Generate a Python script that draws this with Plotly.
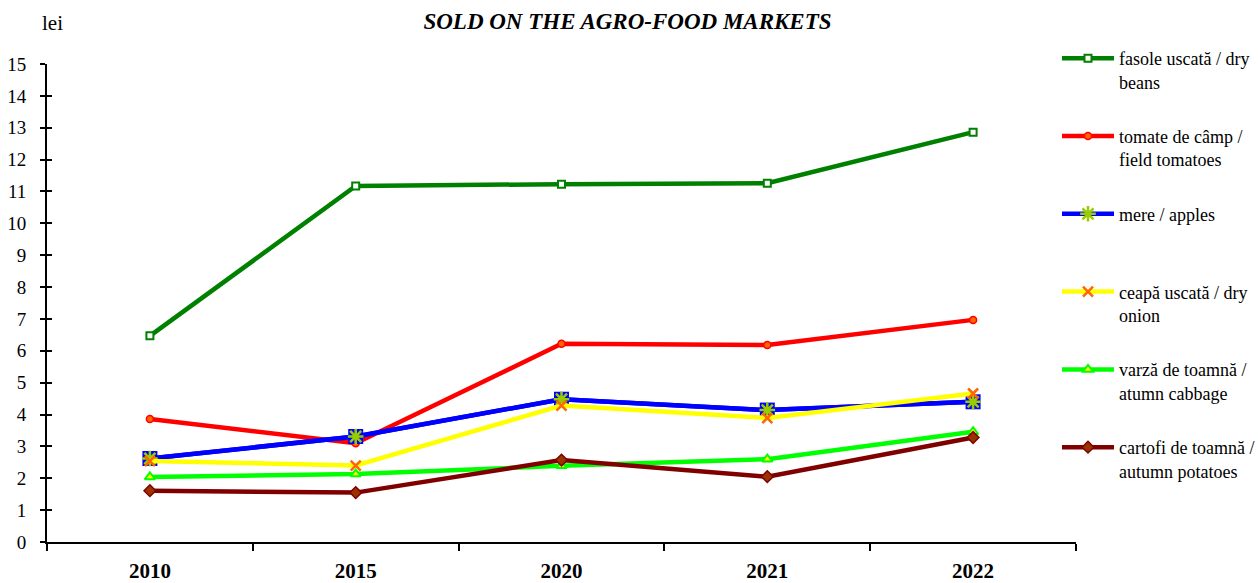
import plotly.graph_objects as go

years = ["2010", "2015", "2020", "2021", "2022"]

names = [
    "fasole uscată / dry<br>beans",
    "tomate de câmp /<br>field tomatoes",
    "mere / apples<br> ",
    "ceapă uscată / dry<br>onion",
    "varză de toamnă /<br>atumn cabbage",
    "cartofi de toamnă /<br>autumn potatoes",
]

beans = [6.47, 11.17, 11.23, 11.26, 12.86]
tomatoes = [3.86, 3.10, 6.22, 6.18, 6.97]
apples = [2.62, 3.31, 4.48, 4.14, 4.40]
onion = [2.54, 2.40, 4.28, 3.89, 4.66]
cabbage = [2.04, 2.13, 2.39, 2.60, 3.46]
potatoes = [1.61, 1.55, 2.57, 2.05, 3.28]

FONT = "Liberation Serif"

W, H = 1258, 583
L, R, T, B = 47, 182, 64, 41
PW, PH = W - L - R, H - T - B

fig = go.Figure()

def add(name, vals, color, symbol, size, fill, mline, mlw, group):
    fig.add_trace(go.Scatter(
        x=years, y=vals, name=name, mode="lines+markers",
        line=dict(color=color, width=4.5),
        marker=dict(symbol=symbol, size=size, color=fill,
                    line=dict(color=mline, width=mlw)),
        legendgroup=group,
    ))

add(names[0], beans, "#008000", "square", 7, "#FFFFFF", "#008000", 2, "g1")
add(names[1], tomatoes, "#FF0000", "circle", 7, "#FF6600", "#FF0000", 1.5, "g2")
# apples: blue square under an asterisk
fig.add_trace(go.Scatter(
    x=years, y=apples, mode="lines+markers", showlegend=False,
    line=dict(color="#0000FF", width=4.5),
    marker=dict(symbol="square", size=15, color="#0000FF"),
    legendgroup="g3", hoverinfo="skip",
))
fig.add_trace(go.Scatter(
    x=years, y=apples, name=names[2], mode="lines+markers",
    line=dict(color="#0000FF", width=4.5),
    marker=dict(symbol="asterisk-open", size=13, color="#99CC00",
                line=dict(color="#99CC00", width=2.5)),
    legendgroup="g3",
))
fig.add_trace(go.Scatter(
    x=years, y=onion, name=names[3], mode="lines+markers",
    line=dict(color="#FFFF00", width=4.5),
    marker=dict(symbol="x-thin-open", size=10, color="#FF6600",
                line=dict(color="#FF6600", width=2.5)),
    legendgroup="g4",
))
add(names[4], cabbage, "#00FF00", "triangle-up", 9, "#FFFF00", "#00FF00", 2, "g5")
add(names[5], potatoes, "#800000", "diamond", 9, "#993300", "#800000", 1.5, "g6")

fig.update_layout(
    width=W, height=H,
    margin=dict(l=L, r=R, t=T, b=B, autoexpand=False),
    paper_bgcolor="white", plot_bgcolor="white",
    font=dict(family=FONT, color="black", size=18),
    title=dict(text="<b><i>SOLD ON THE AGRO-FOOD MARKETS</i></b>",
               x=627.5 / W, xref="container", xanchor="center",
               y=1 - 21 / H, yref="container", yanchor="middle",
               font=dict(family=FONT, size=23, color="black")),
    showlegend=True,
    legend=dict(x=(1057 - L) / PW, xanchor="left", xref="paper",
                y=1 - 40 / H, yref="container", yanchor="top",
                font=dict(family=FONT, size=18, color="black"),
                traceorder="grouped", tracegroupgap=28, valign="top",
                itemwidth=52, bgcolor="rgba(0,0,0,0)", maxheight=560),
    xaxis=dict(
        type="category", range=[-0.5, 4.5],
        showline=True, linecolor="black", linewidth=2,
        ticks="outside", ticklen=7, tickwidth=2, tickcolor="black",
        tickson="boundaries", showgrid=False, zeroline=False,
        tickfont=dict(family=FONT, size=21, color="black"),
        tickprefix="<b>", ticksuffix="</b>",
        ticklabelstandoff=9,
    ),
    yaxis=dict(
        range=[0, 15], dtick=1, tick0=0,
        showline=True, linecolor="black", linewidth=2,
        ticks="outside", ticklen=5, tickwidth=2, tickcolor="black",
        showgrid=False, zeroline=False,
        tickfont=dict(family=FONT, size=19, color="black"),
        ticklabelstandoff=10,
    ),
    yaxis2=dict(
        range=[0, 15], dtick=1, tick0=0, overlaying="y", side="left",
        anchor="x", showline=False,
        ticks="inside", ticklen=5, tickwidth=2, tickcolor="black",
        showticklabels=False, showgrid=False, zeroline=False,
    ),
    annotations=[dict(text="lei", x=(52 - L) / PW, y=1 + (T - 23) / PH,
                      xref="paper", yref="paper", xanchor="center",
                      yanchor="middle", showarrow=False,
                      font=dict(family=FONT, size=21))],
)

# dummy trace to activate yaxis2 ticks
fig.add_trace(go.Scatter(x=[years[0]], y=[None], yaxis="y2", showlegend=False,
                         hoverinfo="skip"))

fig.write_html("out.html", config={"displayModeBar": False},
               post_script="document.body.style.margin='0';document.body.style.padding='0';")
